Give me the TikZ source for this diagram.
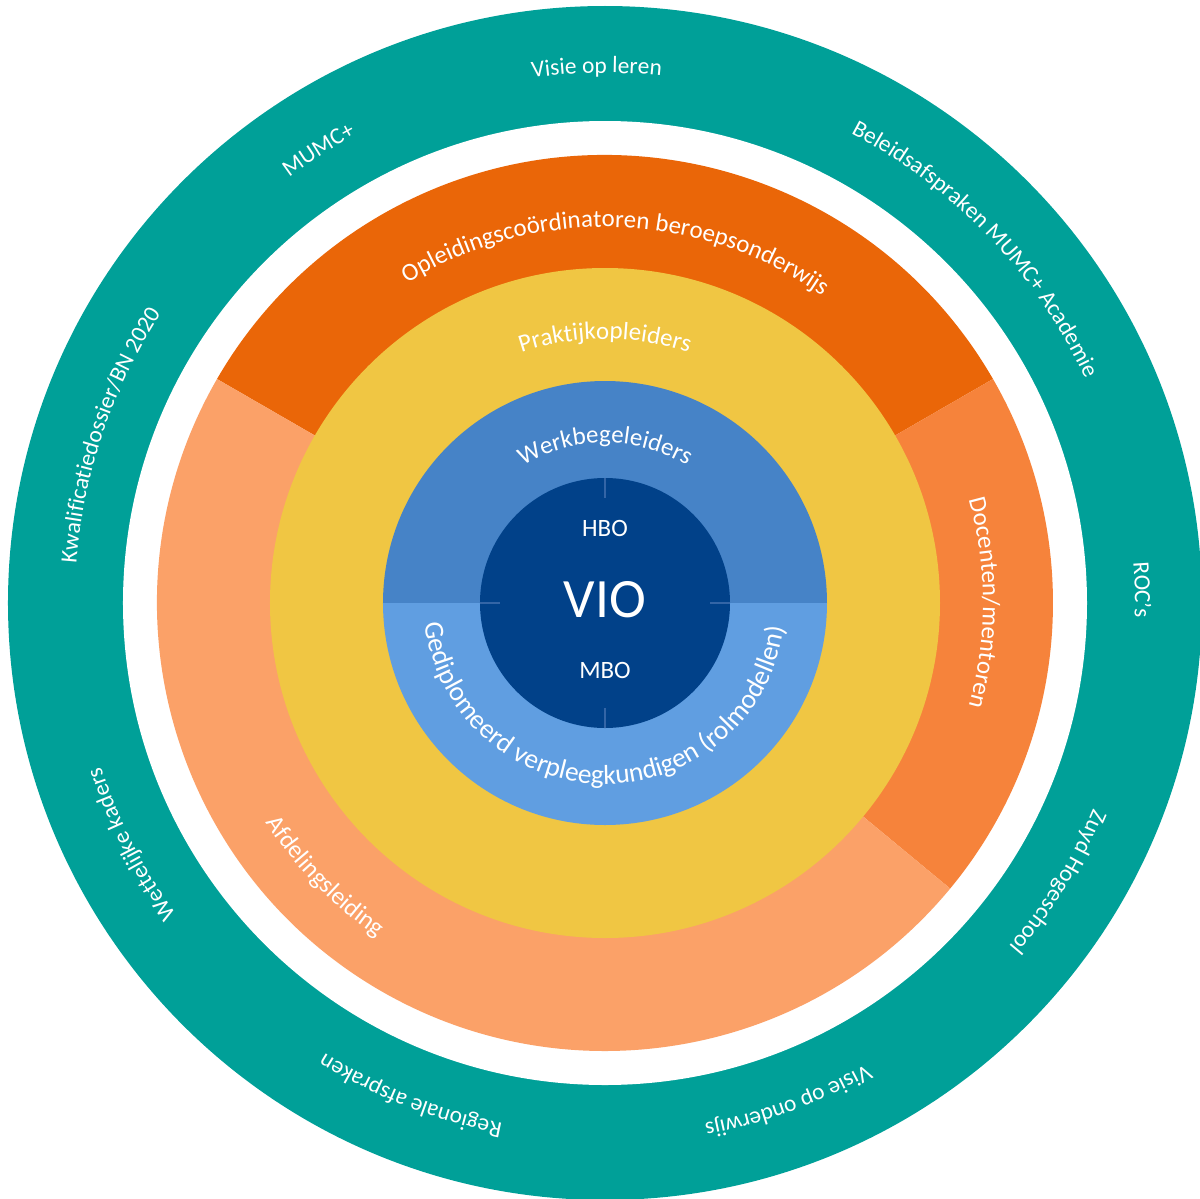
\documentclass[tikz,border=0pt]{standalone}
\usepackage{fontspec}
\setmainfont{Carlito}
\usetikzlibrary{decorations.text}

\definecolor{vioteal}{HTML}{00A098}
\definecolor{vioorange}{HTML}{EA6608}
\definecolor{violightorange}{HTML}{F6833B}
\definecolor{viosalmon}{HTML}{FBA168}
\definecolor{vioyellow}{HTML}{F0C643}
\definecolor{vioblue}{HTML}{4683C7}
\definecolor{violightblue}{HTML}{609EE1}
\definecolor{vionavy}{HTML}{014189}
\definecolor{viotick}{HTML}{3465A6}

\newcommand{\outerfont}{\fontsize{13.3}{16}\selectfont}
\newcommand{\bandfont}{\fontsize{14.2}{17}\selectfont}
\newcommand{\rolfont}{\fontsize{15.6}{19}\selectfont}

\begin{document}
\begin{tikzpicture}[x=0.02cm, y=0.02cm]
	\tikzstyle{ringtext} = [decorate, decoration={text along path, text align=center, text color=white}]
	\tikzstyle{tick} = [draw=viotick, line width=0.6pt]

		\useasboundingbox (-605,-595) rectangle (595,603);

		\fill[vioteal] (0,0) circle (597);
		\fill[white] (0,0) circle (482);
		\fill[vioorange] (0,0) -- (30:448) arc[start angle=30, end angle=150, radius=448] -- cycle;
		\fill[violightorange] (0,0) -- (-39.6:448) arc[start angle=-39.6, end angle=30, radius=448] -- cycle;
		\fill[viosalmon] (0,0) -- (150:448) arc[start angle=150, end angle=320.4, radius=448] -- cycle;
		\fill[vioyellow] (0,0) circle (335);
		\fill[vioblue] (222,0) arc[start angle=0, end angle=180, radius=222] -- cycle;
		\fill[violightblue] (-222,0) arc[start angle=180, end angle=360, radius=222] -- cycle;
		\fill[vionavy] (0,0) circle (125);

		\draw[tick] (0,105) -- (0,125);
		\draw[tick] (0,-105) -- (0,-125);
		\draw[tick] (105,0) -- (125,0);
		\draw[tick] (-105,0) -- (-125,0);

		\node[text=white, font=\fontsize{31.6}{36}\selectfont] (vio) at (0,3) {VIO};
		\node[text=white, font=\bandfont] (hbo) at (0,75) {HBO};
		\node[text=white, font=\bandfont] (mbo) at (0,-67.5) {MBO};

		\path[ringtext, decoration={text={|\outerfont|Visie op leren}}] (150.9:530) arc[start angle=150.9, end angle=30.9, radius=530];
		\path[ringtext, decoration={text={|\outerfont|MUMC+}}] (162.3:530) arc[start angle=162.3, end angle=82.3, radius=530];
		\path[ringtext, decoration={text={|\outerfont|Beleidsafspraken MUMC+ Academie}}] (98.7:530) arc[start angle=98.7, end angle=-11.3, radius=530];
		\path[ringtext, decoration={text={|\outerfont|ROC’s}}] (41.4:530) arc[start angle=41.4, end angle=-38.6, radius=530];
		\path[ringtext, decoration={text={|\outerfont|Zuyd Hogeschool}}] (8.4:530) arc[start angle=8.4, end angle=-71.6, radius=530];
		\path[ringtext, decoration={text={|\outerfont|Visie op onderwijs}}] (-29.8:530) arc[start angle=-29.8, end angle=-109.8, radius=530];
		\path[ringtext, decoration={text={|\outerfont|Regionale afspraken}}] (288.5:530) arc[start angle=288.5, end angle=208.5, radius=530];
		\path[ringtext, decoration={text={|\outerfont|Wettelijke kaders}}] (247:530) arc[start angle=247, end angle=167, radius=530];
		\path[ringtext, decoration={text={|\outerfont|Kwalificatiedossier/BN 2020}}] (211.3:530) arc[start angle=211.3, end angle=111.3, radius=530];

		\path[ringtext, decoration={text={|\bandfont|Opleidingscoördinatoren beroepsonderwijs}}] (148.2:376) arc[start angle=148.2, end angle=28.2, radius=376];
		\path[ringtext, decoration={text={|\bandfont|Docenten/mentoren}}] (40:378) arc[start angle=40, end angle=-40, radius=378];
		\path[ringtext, decoration={text={|\bandfont|Afdelingsleiding}}] (189.3:404) arc[start angle=189.3, end angle=259.3, radius=404];
		\path[ringtext, decoration={text={|\bandfont|Praktijkopleiders}}] (140:264) arc[start angle=140, end angle=40, radius=264];
		\path[ringtext, decoration={text={|\bandfont|Werkbegeleiders}}] (150:160) arc[start angle=150, end angle=30, radius=160];
		\path[ringtext, decoration={text={|\rolfont|Gediplomeerd verpleegkundigen (rolmodellen)}}] (180:181) arc[start angle=180, end angle=358.6, radius=181];

\end{tikzpicture}
\end{document}
